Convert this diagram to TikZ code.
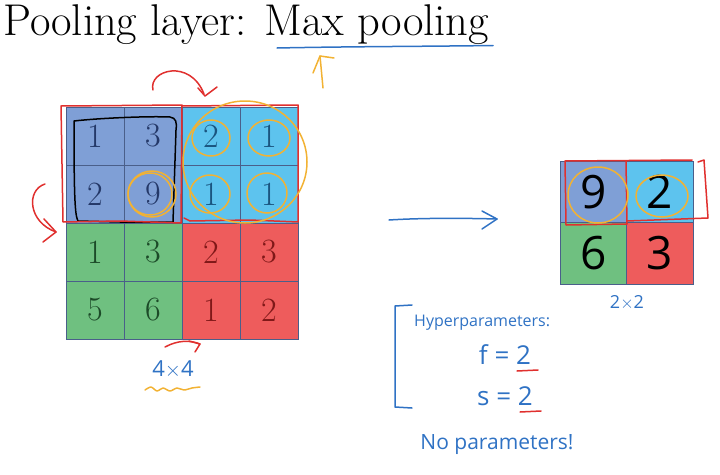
\documentclass[tikz,border=0pt]{standalone}
\usepackage{fontspec}
\newfontfamily\handfont{Open Sans}
\definecolor{cA}{HTML}{7F9FD6}
\definecolor{cB}{HTML}{5DC3EE}
\definecolor{cC}{HTML}{6FC080}
\definecolor{cD}{HTML}{EE5C5C}
\definecolor{tA}{HTML}{243868}
\definecolor{tB}{HTML}{1A5580}
\definecolor{tC}{HTML}{1C4A28}
\definecolor{tD}{HTML}{801818}
\definecolor{gridline}{HTML}{4A5F8A}
\definecolor{pen}{HTML}{2F72C4}
\definecolor{redpen}{HTML}{E0302E}
\definecolor{orpen}{HTML}{F2B233}
\begin{document}
\begin{tikzpicture}[x=1pt,y=-1pt,
  cell/.style={draw=gridline, line width=0.7pt, inner sep=0pt, minimum width=58pt, minimum height=58pt, font=\fontsize{34}{38}\selectfont},
  bigcell/.style={draw=gridline, line width=0.7pt, inner sep=0pt, minimum width=66.5pt, minimum height=61.5pt, font=\handfont\fontsize{46}{50}\selectfont, text=black},
  hand/.style={font=\handfont, text=pen, inner sep=0pt},
  redline/.style={draw=redpen, line width=1.5pt, line cap=round, line join=round},
  orline/.style={draw=orpen, line width=1.5pt, line cap=round, line join=round},
  blueline/.style={draw=pen, line width=1.5pt, line cap=round, line join=round}]
\useasboundingbox (0,0) rectangle (720,474);
% title
\node[anchor=base west, inner sep=0pt, font=\fontsize{44.5}{50}\selectfont] (title) at (3,35) {Pooling layer: Max pooling};
\draw[blueline] (277,48) .. controls (350,46.5) and (420,46.5) .. (493,45.5);
\draw[orline] (323,88) -- (320,56);
\draw[orline] (313,73) -- (320,56) -- (334,58);
% left grid
\node[cell, fill=cA, text=tA] (c11) at (95,136) {1};
\node[cell, fill=cA, text=tA] (c12) at (153,136) {3};
\node[cell, fill=cB, text=tB] (c13) at (211,136) {2};
\node[cell, fill=cB, text=tB] (c14) at (269,136) {1};
\node[cell, fill=cA, text=tA] (c21) at (95,194) {2};
\node[cell, fill=cA, text=tA] (c22) at (153,194) {9};
\node[cell, fill=cB, text=tB] (c23) at (211,194) {1};
\node[cell, fill=cB, text=tB] (c24) at (269,194) {1};
\node[cell, fill=cC, text=tC] (c31) at (95,252) {1};
\node[cell, fill=cC, text=tC] (c32) at (153,252) {3};
\node[cell, fill=cD, text=tD] (c33) at (211,252) {2};
\node[cell, fill=cD, text=tD] (c34) at (269,252) {3};
\node[cell, fill=cC, text=tC] (c41) at (95,310) {5};
\node[cell, fill=cC, text=tC] (c42) at (153,310) {6};
\node[cell, fill=cD, text=tD] (c43) at (211,310) {1};
\node[cell, fill=cD, text=tD] (c44) at (269,310) {2};
% annotations on left grid
\draw[draw=black, line width=1.5pt, line cap=round, line join=round] (74,121) .. controls (100,118) and (150,116) .. (170,117) .. controls (176,118) and (177,122) .. (176,130) -- (173,222) -- (120,222) -- (78,221) .. controls (75,215) and (74,200) .. (74,121);
\draw[redline] (61,106) -- (182,105) -- (181,223) -- (120,221) -- (63,222) -- cycle;
\draw[redline] (182,106) -- (298,105) -- (298,222) -- (250,220) -- (190,221) -- (184,218);
\draw[orline] (152,194) ellipse (24pt and 23pt);
\draw[orline] (150,194) ellipse (22pt and 21pt);
\draw[orline] (211,138) ellipse (19pt and 18pt);
\draw[orline] (269,138) ellipse (21pt and 18pt);
\draw[orline] (210,194) ellipse (20pt and 19pt);
\draw[orline] (267,193) ellipse (20pt and 20pt);
\draw[orline] (245,162) ellipse (62pt and 61pt);
% red arrows
\draw[redline] (153,90) .. controls (148,70) and (190,58) .. (204,94);
\draw[redline] (198,88) -- (205,96) -- (217,87);
\draw[redline] (45,184) .. controls (26,190) and (28,222) .. (56,232);
\draw[redline] (44,219) -- (56,232) -- (43,242);
\draw[redline] (165,347) .. controls (178,340) and (190,340) .. (200,344);
\draw[redline] (189,341) -- (200,344) -- (195,352);
% 4x4 label
\node[hand, font=\handfont\fontsize{22}{24}\selectfont] (lab44) at (173,369) {4$\times$4};
\draw[orline] plot[smooth] coordinates {(145,390) (151,387) (157,391) (163,388) (170,391) (177,388) (184,390) (192,388) (200,387)};
% arrow
\draw[blueline] (389,220) .. controls (420,218) and (460,218) .. (497,219);
\draw[blueline] (482,211) -- (497,219) -- (482,229);
% right grid
\node[bigcell, fill=cA] (r11) at (593.25,191.75) {9};
\node[bigcell, fill=cB] (r12) at (659.75,191.75) {2};
\node[bigcell, fill=cC] (r21) at (593.25,253.25) {6};
\node[bigcell, fill=cD] (r22) at (659.75,253.25) {3};
\draw[redline] (565,161) -- (692,160);
\draw[redline] (565,161) -- (566,225) -- (627,224) -- (626,161);
\draw[redline] (627,221) -- (708,218) -- (704,160) -- (698,162);
\draw[orline] (598,195) ellipse (30pt and 28pt);
\draw[orline] (662,196) ellipse (26pt and 21pt);
\node[hand, font=\handfont\fontsize{18}{20}\selectfont] (lab22) at (627,303) {2$\times$2};
% hyperparameters
\draw[blueline] (412,305) -- (395,306) -- (395,407) -- (412,408);
\node[hand, anchor=west, font=\handfont\fontsize{16}{18}\selectfont] (hyp) at (414,323) {Hyperparameters:};
\node[hand, font=\handfont\fontsize{26}{28}\selectfont] (feq) at (505,355) {f = 2};
\node[hand, font=\handfont\fontsize{26}{28}\selectfont] (seq) at (505,396) {s = 2};
\draw[redline] (517,371) -- (538,370);
\draw[redline] (520,412) -- (541,411);
\node[hand, font=\handfont\fontsize{21}{24}\selectfont] (nop) at (497,445) {No parameters!};
\end{tikzpicture}
\end{document}
